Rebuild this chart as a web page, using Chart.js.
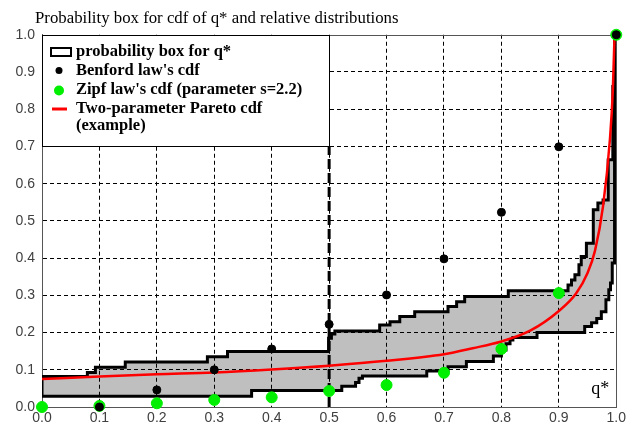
<!DOCTYPE html>
<html>
<head>
<meta charset="utf-8">
<script src="https://cdn.jsdelivr.net/npm/chart.js@4.4.0/dist/chart.umd.min.js"></script>
<style>
html, body { margin: 0; padding: 0; background: #fff; }
</style>
</head>
<body>
<canvas id="pbox" width="629" height="430"></canvas>
<script>
// values
var titleText = 'Probability box for cdf of q* and relative distributions';
var axisLabel = 'q*';
var xTickLabels = ['0.0', '0.1', '0.2', '0.3', '0.4', '0.5', '0.6', '0.7', '0.8', '0.9', '1.0'];
var yTickLabels = ['0.0', '0.1', '0.2', '0.3', '0.4', '0.5', '0.6', '0.7', '0.8', '0.9', '1.0'];
var legendLabels = ['probability box for q*', "Benford law's cdf", "Zipf law's cdf (parameter s=2.2)", 'Two-parameter Pareto cdf', '(example)'];

// Benford law's cdf (black dots)
var benfordX = [0.1, 0.2, 0.3, 0.4, 0.5, 0.6, 0.7, 0.8, 0.9, 1.0];
var benfordY = [0.0, 0.046, 0.1, 0.156, 0.222, 0.301, 0.398, 0.523, 0.699, 1.0];

// Zipf law's cdf, s=2.2 (green dots)
var zipfX = [0.0, 0.1, 0.2, 0.3, 0.4, 0.5, 0.6, 0.7, 0.8, 0.9, 1.0];
var zipfY = [0.0, 0.003, 0.01, 0.019, 0.026, 0.043, 0.059, 0.092, 0.156, 0.306, 1.0];

// Pareto cdf (red curve)
var paretoX = [0.0, 0.1, 0.2, 0.3, 0.4, 0.5, 0.6, 0.7, 0.75, 0.8, 0.85, 0.9, 0.93, 0.95, 0.963, 0.977, 0.989, 0.994, 0.997];
var paretoY = [0.075, 0.082, 0.088, 0.093, 0.101, 0.111, 0.124, 0.142, 0.158, 0.176, 0.205, 0.258, 0.305, 0.36, 0.42, 0.54, 0.72, 0.85, 1.0];

// p-box upper bound: value holds from each x onward
var upperX = [0.0, 0.0, 0.079, 0.093, 0.145, 0.288, 0.323, 0.499, 0.504, 0.510, 0.588, 0.606, 0.623, 0.649, 0.707, 0.722, 0.736, 0.812, 0.916, 0.922, 0.928, 0.935, 0.939, 0.948, 0.960, 0.968, 0.977, 0.986, 0.994, 0.997];
var upperY = [0.029, 0.082, 0.093, 0.107, 0.121, 0.135, 0.149, 0.185, 0.196, 0.204, 0.220, 0.229, 0.243, 0.256, 0.270, 0.283, 0.297, 0.312, 0.328, 0.341, 0.355, 0.382, 0.404, 0.44, 0.53, 0.548, 0.556, 0.664, 0.861, 1.0];

// p-box lower bound: value holds from each x onward
var lowerX = [0.0, 0.365, 0.522, 0.546, 0.552, 0.558, 0.670, 0.707, 0.739, 0.786, 0.800, 0.808, 0.815, 0.820, 0.862, 0.945, 0.957, 0.966, 0.974, 0.982, 0.987, 0.990, 0.993, 0.997];
var lowerY = [0.029, 0.044, 0.056, 0.066, 0.077, 0.083, 0.097, 0.108, 0.122, 0.137, 0.153, 0.170, 0.180, 0.187, 0.200, 0.216, 0.226, 0.238, 0.256, 0.288, 0.315, 0.333, 0.387, 1.0];

// dashed marker at q* = 0.5
var markX = [0.5, 0.5];
var markY = [0.0, 0.7];

function toPoints(xs, ys) {
    return xs.map(function (x, i) { return { x: x, y: ys[i] }; });
}

function gridColor(c) {
    var v = c.tick ? c.tick.value : 0.5;
    if (v < 0.001 || v > 0.999) return 'rgba(0,0,0,0)';
    return '#000';
}

// move the title so it starts where the original one does
var titleShift = {
    id: 'titleShift',
    afterLayout: function (chart) {
        if (chart.titleBlock) chart.titleBlock.left = 35;
    }
};

var framePlugin = {
    id: 'frame',
    beforeDatasetsDraw: function (chart) {
        var c = chart.ctx, a = chart.chartArea;
        c.save();
        c.strokeStyle = '#555';
        c.lineWidth = 1;
        c.beginPath();
        c.moveTo(Math.round(a.left) + 0.5, Math.round(a.top) + 0.5);
        c.lineTo(Math.round(a.right) + 0.5, Math.round(a.top) + 0.5);
        c.lineTo(Math.round(a.right) + 0.5, Math.round(a.bottom) + 0.5);
        c.stroke();
        c.restore();
    }
};

var legendPlugin = {
    id: 'boxLegend',
    afterDraw: function (chart) {
        var c = chart.ctx, a = chart.chartArea;
        var x0 = Math.round(a.left), y0 = Math.round(a.top);
        var w = 288, h = 112;
        var rows = [21, 40, 59, 78, 95];
        c.save();
        c.fillStyle = '#fff';
        c.fillRect(x0, y0, w, h);
        c.strokeStyle = '#000';
        c.lineWidth = 1;
        c.strokeRect(x0 + 0.5, y0 + 0.5, w - 1, h - 1);

        // symbols
        c.lineWidth = 2;
        c.strokeRect(x0 + 9, y0 + 13, 20, 8);
        c.fillStyle = '#000';
        c.beginPath(); c.arc(x0 + 17, y0 + 35.5, 3.5, 0, Math.PI * 2); c.fill();
        c.fillStyle = '#00ee00';
        c.beginPath(); c.arc(x0 + 17, y0 + 55.5, 5, 0, Math.PI * 2); c.fill();
        c.strokeStyle = '#ff0000';
        c.lineWidth = 3;
        c.beginPath(); c.moveTo(x0 + 10, y0 + 74); c.lineTo(x0 + 25, y0 + 74); c.stroke();

        c.fillStyle = '#000';
        c.font = 'bold 16.5px "Liberation Serif"';
        c.textAlign = 'left';
        c.textBaseline = 'alphabetic';
        for (var i = 0; i < legendLabels.length; i++) {
            c.fillText(legendLabels[i], x0 + 34, y0 + rows[i]);
        }

        c.font = '18px "Liberation Serif"';
        c.textAlign = 'right';
        c.fillText(axisLabel, a.right - 7, a.bottom - 13);
        c.restore();
    }
};

var ctx = document.getElementById('pbox');
var pboxChart = new Chart(ctx, {
    type: 'scatter',
    data: {
        datasets: [
            {
                label: legendLabels[1],
                data: toPoints(benfordX, benfordY),
                backgroundColor: '#000',
                borderColor: '#000',
                pointRadius: 4,
                pointHoverRadius: 4,
                clip: false
            },
            {
                label: legendLabels[2],
                data: toPoints(zipfX, zipfY),
                backgroundColor: '#00ee00',
                borderColor: '#00ee00',
                pointRadius: 5.5,
                pointHoverRadius: 5.5,
                clip: false
            },
            {
                label: legendLabels[3],
                data: toPoints(paretoX, paretoY),
                showLine: true,
                borderColor: '#ff0000',
                borderWidth: 2.5,
                pointRadius: 0,
                cubicInterpolationMode: 'monotone',
                fill: false
            },
            {
                label: 'q* mark',
                data: toPoints(markX, markY),
                showLine: true,
                borderColor: '#000',
                borderWidth: 3,
                borderDash: [10, 4],
                pointRadius: 0,
                fill: false
            },
            {
                label: legendLabels[0],
                data: toPoints(upperX, upperY),
                showLine: true,
                stepped: 'before',
                borderColor: '#000',
                borderWidth: 3,
                pointRadius: 0,
                backgroundColor: 'rgba(0,0,0,0.25)',
                fill: '+1'
            },
            {
                label: 'lower bound',
                data: toPoints(lowerX, lowerY),
                showLine: true,
                stepped: 'before',
                borderColor: '#000',
                borderWidth: 3,
                pointRadius: 0,
                fill: false
            }
        ]
    },
    options: {
        responsive: false,
        animation: false,
        devicePixelRatio: 1,
        layout: {
            padding: { left: 0, right: 12, top: 0, bottom: 0 }
        },
        scales: {
            x: {
                type: 'linear',
                min: 0,
                max: 1,
                afterFit: function (s) { s.height = 23; },
                ticks: {
                    stepSize: 0.1,
                    autoSkip: false,
                    maxRotation: 0,
                    padding: 3,
                    color: '#404040',
                    font: { family: '"Liberation Sans"', size: 14 },
                    callback: function (v) { return xTickLabels[Math.round(v * 10)]; }
                },
                grid: { color: gridColor, lineWidth: 1, drawTicks: false },
                border: { color: '#555', width: 1, dash: [4, 3] }
            },
            y: {
                type: 'linear',
                min: 0,
                max: 1,
                afterFit: function (s) { s.width = 42; },
                ticks: {
                    stepSize: 0.1,
                    autoSkip: false,
                    padding: 7,
                    color: '#404040',
                    font: { family: '"Liberation Sans"', size: 14 },
                    callback: function (v) { return yTickLabels[Math.round(v * 10)]; }
                },
                grid: { color: gridColor, lineWidth: 1, drawTicks: false },
                border: { color: '#555', width: 1, dash: [4, 3] }
            }
        },
        plugins: {
            legend: { display: false },
            tooltip: { enabled: false },
            title: {
                display: true,
                text: titleText,
                align: 'start',
                color: '#000',
                font: { family: '"Liberation Serif"', size: 16.8, weight: 'normal' },
                padding: { top: 9, bottom: 5.6 }
            }
        }
    },
    plugins: [titleShift, framePlugin, legendPlugin]
});
</script>
</body>
</html>
